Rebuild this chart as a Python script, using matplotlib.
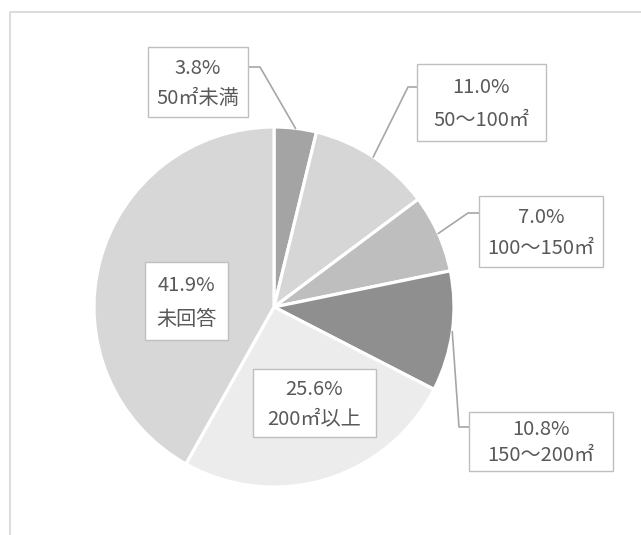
import numpy as np
import matplotlib.pyplot as plt
from matplotlib.patches import Rectangle

plt.rcParams['font.family'] = ['Noto Sans CJK JP', 'DejaVu Sans']

# data (clockwise from 12 o'clock)
shares = [3.8, 11.0, 7.0, 10.8, 25.6, 41.9]
pct_text = ["3.8%", "11.0%", "7.0%", "10.8%", "25.6%", "41.9%"]
cats = ["50㎡未満", "50～100㎡", "100～150㎡", "150～200㎡", "200㎡以上", "未回答"]
colors = ["#a4a4a4", "#d6d6d6", "#bebebe", "#8f8f8f", "#ececec", "#d7d7d7"]

W, H = 641, 535
fig = plt.figure(figsize=(W / 100, H / 100), dpi=100)
ax = fig.add_axes([0, 0, 1, 1])
ax.set_xlim(0, W)
ax.set_ylim(0, H)
ax.set_aspect('equal')
ax.axis('off')

# outer frame (only left/top visible)
ax.plot([9.5, 9.5, W + 5], [-5, H - 11.5, H - 11.5], color="#d9d9d9", lw=1.3)

cx, cy, R = 274, H - 307, 180
wedges, _ = ax.pie(shares, colors=colors, startangle=90, counterclock=False,
                   center=(cx, cy), radius=R,
                   wedgeprops=dict(edgecolor="white", linewidth=2.3))
ax.set_xlim(0, W)
ax.set_ylim(0, H)

# label boxes: (left, top, right, bottom) in pixel coords
boxes = [
    (148, 47, 248, 117),
    (417, 64, 546, 141),
    (479, 196, 603, 267),
    (469, 412, 613, 471),
    (253, 369, 376, 437),
    (145, 262, 228, 340),
]
# leader: box attach x, y, elbow x
leaders = {0: (248, 67, 260), 1: (417, 87, 408), 2: (479, 213, 468), 3: (469, 427, 459)}

cum = np.cumsum([0] + shares[:-1])
for i, (l, t, r, b) in enumerate(boxes):
    ax.add_patch(Rectangle((l, H - b), r - l, b - t, facecolor="white",
                           edgecolor="#bfbfbf", lw=1.0, zorder=3))
    mx = (l + r) / 2
    h = b - t
    ax.text(mx, H - (t + h * 0.30), pct_text[i], ha="center", va="center",
            fontsize=14.5, color="#595959", zorder=4)
    ax.text(mx, H - (t + h * 0.74), cats[i], ha="center", va="center",
            fontsize=14.5, color="#595959", zorder=4)
    if i in leaders:
        bx, by, ex = leaders[i]
        ang = np.deg2rad((cum[i] + shares[i] / 2) / 100 * 360)
        px = cx + R * np.sin(ang)
        py = cy + R * np.cos(ang)
        ax.plot([bx, ex, px], [H - by, H - by, py], color="#a6a6a6", lw=1.2, zorder=2)

fig.savefig("out.png", dpi=100)
